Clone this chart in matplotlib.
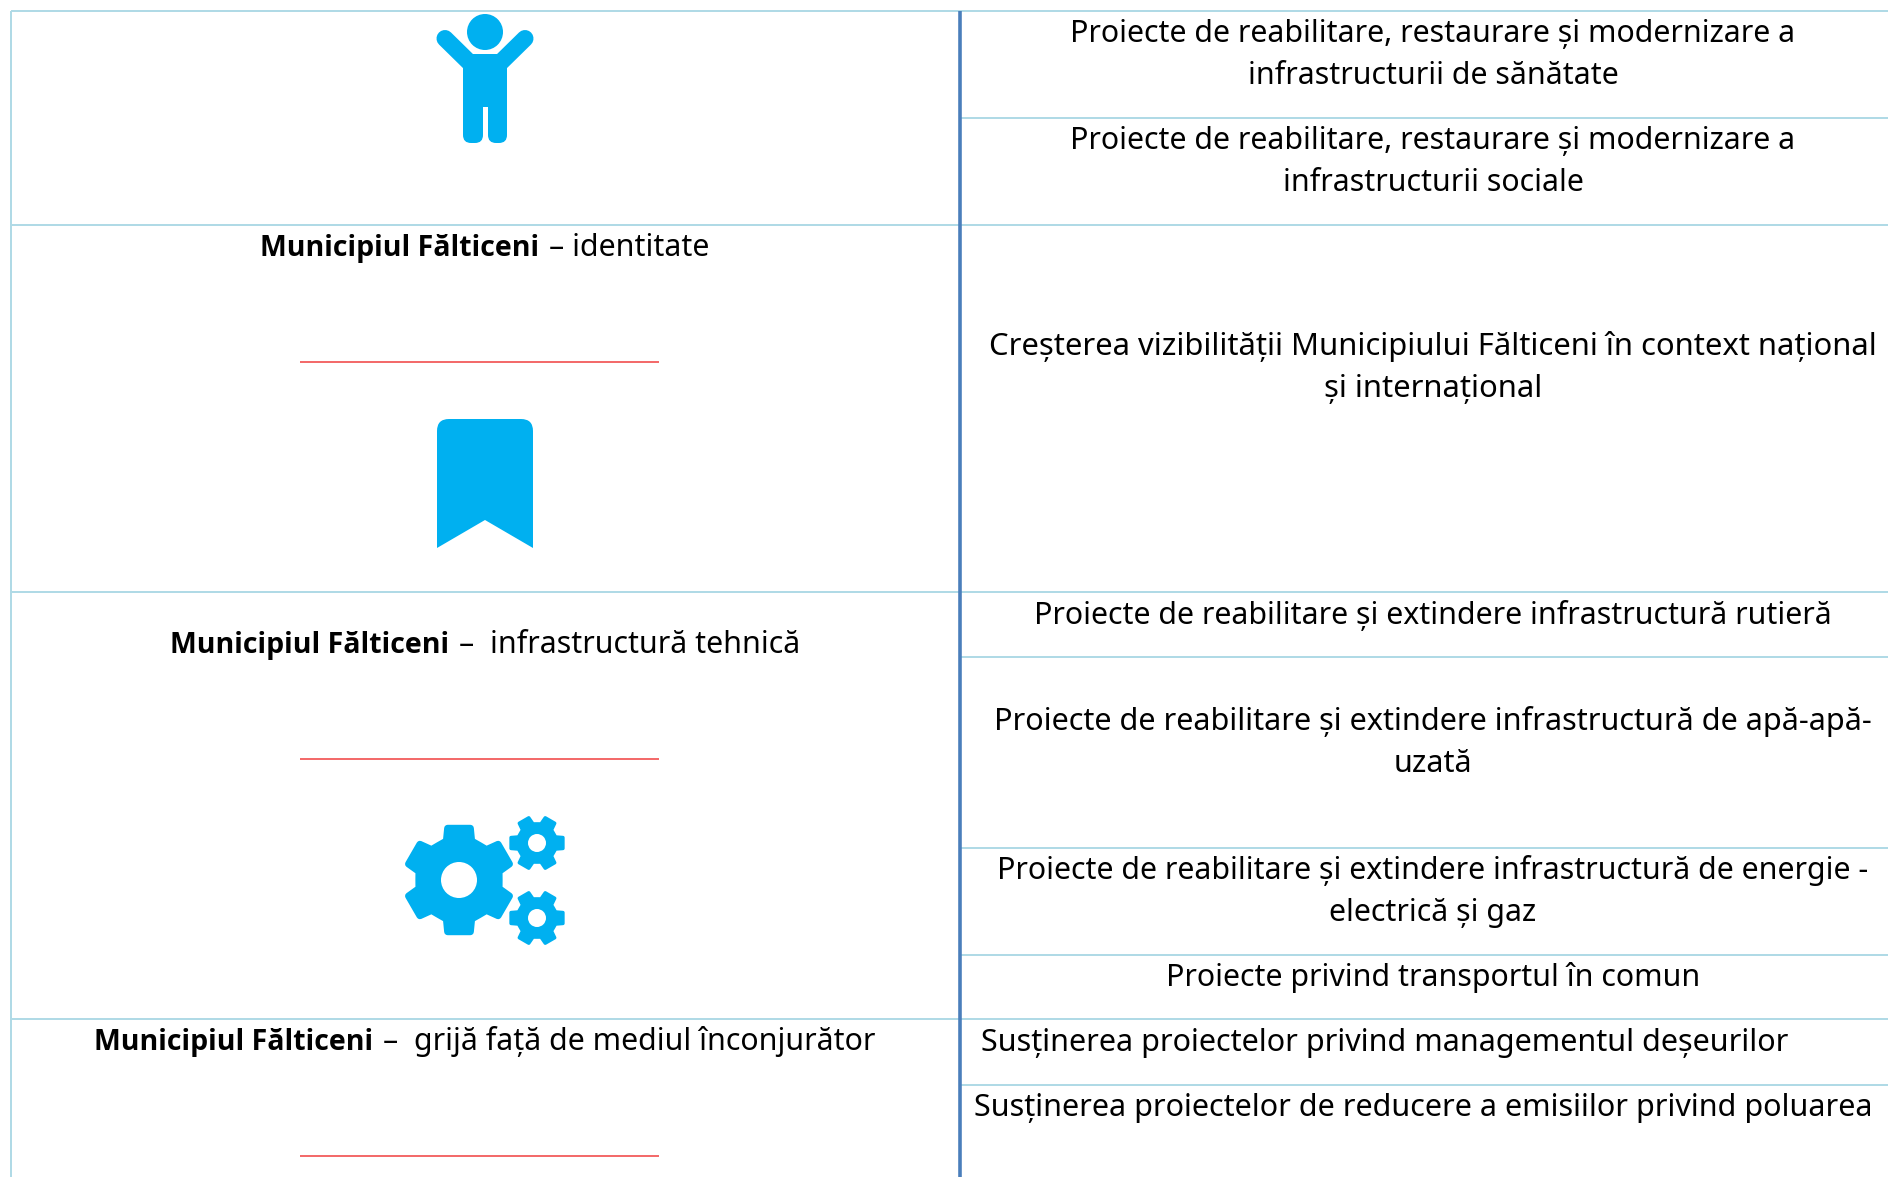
import numpy as np
import matplotlib
matplotlib.use("Agg")
import matplotlib.pyplot as plt
from matplotlib.patches import Circle, PathPatch, Polygon
from matplotlib.path import Path

plt.rcParams['font.family'] = ['Noto Sans', 'DejaVu Sans']

# Table content
headings = ["identitate", "infrastructură tehnică", "grijă față de mediul înconjurător"]
heading_bold = "Municipiul Fălticeni"
heading_dash = ["– ", "–  ", "–  "]
right_cells = [
    "Proiecte de reabilitare, restaurare și modernizare a\ninfrastructurii de sănătate",
    "Proiecte de reabilitare, restaurare și modernizare a\ninfrastructurii sociale",
    "Creșterea vizibilității Municipiului Fălticeni în context național\nși internațional",
    "Proiecte de reabilitare și extindere infrastructură rutieră",
    "Proiecte de reabilitare și extindere infrastructură de apă-apă-\nuzată",
    "Proiecte de reabilitare și extindere infrastructură de energie -\nelectrică și gaz",
    "Proiecte privind transportul în comun",
    "Susținerea proiectelor privind managementul deșeurilor",
    "Susținerea proiectelor de reducere a emisiilor privind poluarea",
]

# Layout in pixels
W, H = 1888, 1177
FS = 21.85
ICON = '#00B0F0'
GRID = '#B0DAE6'
left_rows = [11, 225, 592, 1019]
right_rows = [118, 657, 848, 955, 1085]
right_x = [1433, 1433, 1433, 1433, 1433, 1433, 1433, 1385, 1423]
right_y = [42, 149, 355, 624, 730, 879, 986, 1051, 1116]
right_fs = [FS, FS, 22.3, FS, 22.05, FS, FS, 22.0, 22.0]
head_y = [256, 653, 1050]
red_y = [361.5, 758.5, 1155.5]

fig = plt.figure(figsize=(W / 100, H / 100), dpi=100)
ax = fig.add_axes([0, 0, 1, 1])
ax.set_xlim(0, W)
ax.set_ylim(H, 0)
ax.axis('off')


def px(n):
    return n * 72 / 100


def gear(cx, cy, r_out, r_body, r_hole, tooth, offset):
    # one gear, six teeth, white hole on top
    pts = []
    half_out = tooth / r_out
    half_in = tooth * 1.12 / r_body
    for k in range(6):
        a = np.radians(offset + 60 * k)
        pts.append((cx + r_body * np.cos(a - half_in), cy + r_body * np.sin(a - half_in)))
        pts.append((cx + r_out * np.cos(a - half_out), cy + r_out * np.sin(a - half_out)))
        pts.append((cx + r_out * np.cos(a + half_out), cy + r_out * np.sin(a + half_out)))
        pts.append((cx + r_body * np.cos(a + half_in), cy + r_body * np.sin(a + half_in)))
        v = a + np.radians(30)
        pts.append((cx + r_body * 0.98 * np.cos(v), cy + r_body * 0.98 * np.sin(v)))
    ax.add_patch(Polygon(pts, closed=True, fc=ICON, ec=ICON, lw=px(r_out * 0.13), joinstyle='round'))
    ax.add_patch(Circle((cx, cy), r_hole, fc='white', ec='none'))


# Grid lines
for y in left_rows:
    ax.plot([11, W], [y, y], color=GRID, lw=px(2), solid_capstyle='butt')
for y in right_rows:
    ax.plot([960, W], [y, y], color=GRID, lw=px(2), solid_capstyle='butt')
ax.plot([11, 11], [11, H], color=GRID, lw=px(2), solid_capstyle='butt')
ax.plot([960, 960], [11, H], color='#4A7EBB', lw=px(3.6), solid_capstyle='butt')

# Right column
for txt, x, y, fs in zip(right_cells, right_x, right_y, right_fs):
    lines = txt.split("\n")
    for i, line in enumerate(lines):
        ax.text(x, y + i * 42, line, ha='center', va='baseline', fontsize=fs, color='black')

# Left headings, bold part and regular part centred together
renderer = fig.canvas.get_renderer()
for txt, dash, y in zip(headings, heading_dash, head_y):
    b = ax.text(0, y, heading_bold, ha='left', va='baseline', fontsize=20.5, fontweight='bold',
                family=['Open Sans', 'DejaVu Sans'], color='black')
    r = ax.text(0, y, dash + txt, ha='left', va='baseline', fontsize=FS, color='black')
    wb = b.get_window_extent(renderer).width + 10
    wr = r.get_window_extent(renderer).width
    x0 = 485 - (wb + wr) / 2
    b.set_x(x0)
    r.set_x(x0 + wb)

for y in red_y:
    ax.plot([300, 659], [y, y], color='#F03A3A', lw=px(1.5), solid_capstyle='butt')

# Person icon
ax.add_patch(Circle((485, 32), 18, fc=ICON, ec='none'))
ax.add_patch(Polygon([(472, 54), (498, 54), (507, 67), (507, 107), (463, 107), (463, 67)], closed=True, fc=ICON, ec='none'))
for xs in ([445, 472], [525, 498]):
    ax.plot(xs, [38.5, 65], color=ICON, lw=px(17), solid_capstyle='round')
for x0, x1 in ((463, 483), (488, 507)):
    ax.add_patch(PathPatch(Path(
        [(x0, 100), (x1, 100), (x1, 135), (x1, 143), (x1 - 8, 143), (x0 + 8, 143), (x0, 143), (x0, 135), (x0, 100)],
        [Path.MOVETO, Path.LINETO, Path.LINETO, Path.CURVE3, Path.CURVE3, Path.LINETO, Path.CURVE3, Path.CURVE3, Path.CLOSEPOLY]),
        fc=ICON, ec='none'))

# Bookmark icon
ax.add_patch(PathPatch(Path(
    [(437, 548), (437, 431), (437, 419), (449, 419), (521, 419), (533, 419), (533, 431), (533, 548), (485, 520), (437, 548)],
    [Path.MOVETO, Path.LINETO, Path.CURVE3, Path.CURVE3, Path.LINETO, Path.CURVE3, Path.CURVE3, Path.LINETO, Path.LINETO, Path.CLOSEPOLY]),
    fc=ICON, ec='none'))

# Gears icon
gear(459, 880, 53, 41, 18, 11.5, 90)
gear(537, 843, 26.5, 19.5, 9, 5.5, 0)
gear(537, 918, 26.5, 19.5, 9, 5.5, 0)

fig.savefig("out.png", dpi=100, facecolor='white')
